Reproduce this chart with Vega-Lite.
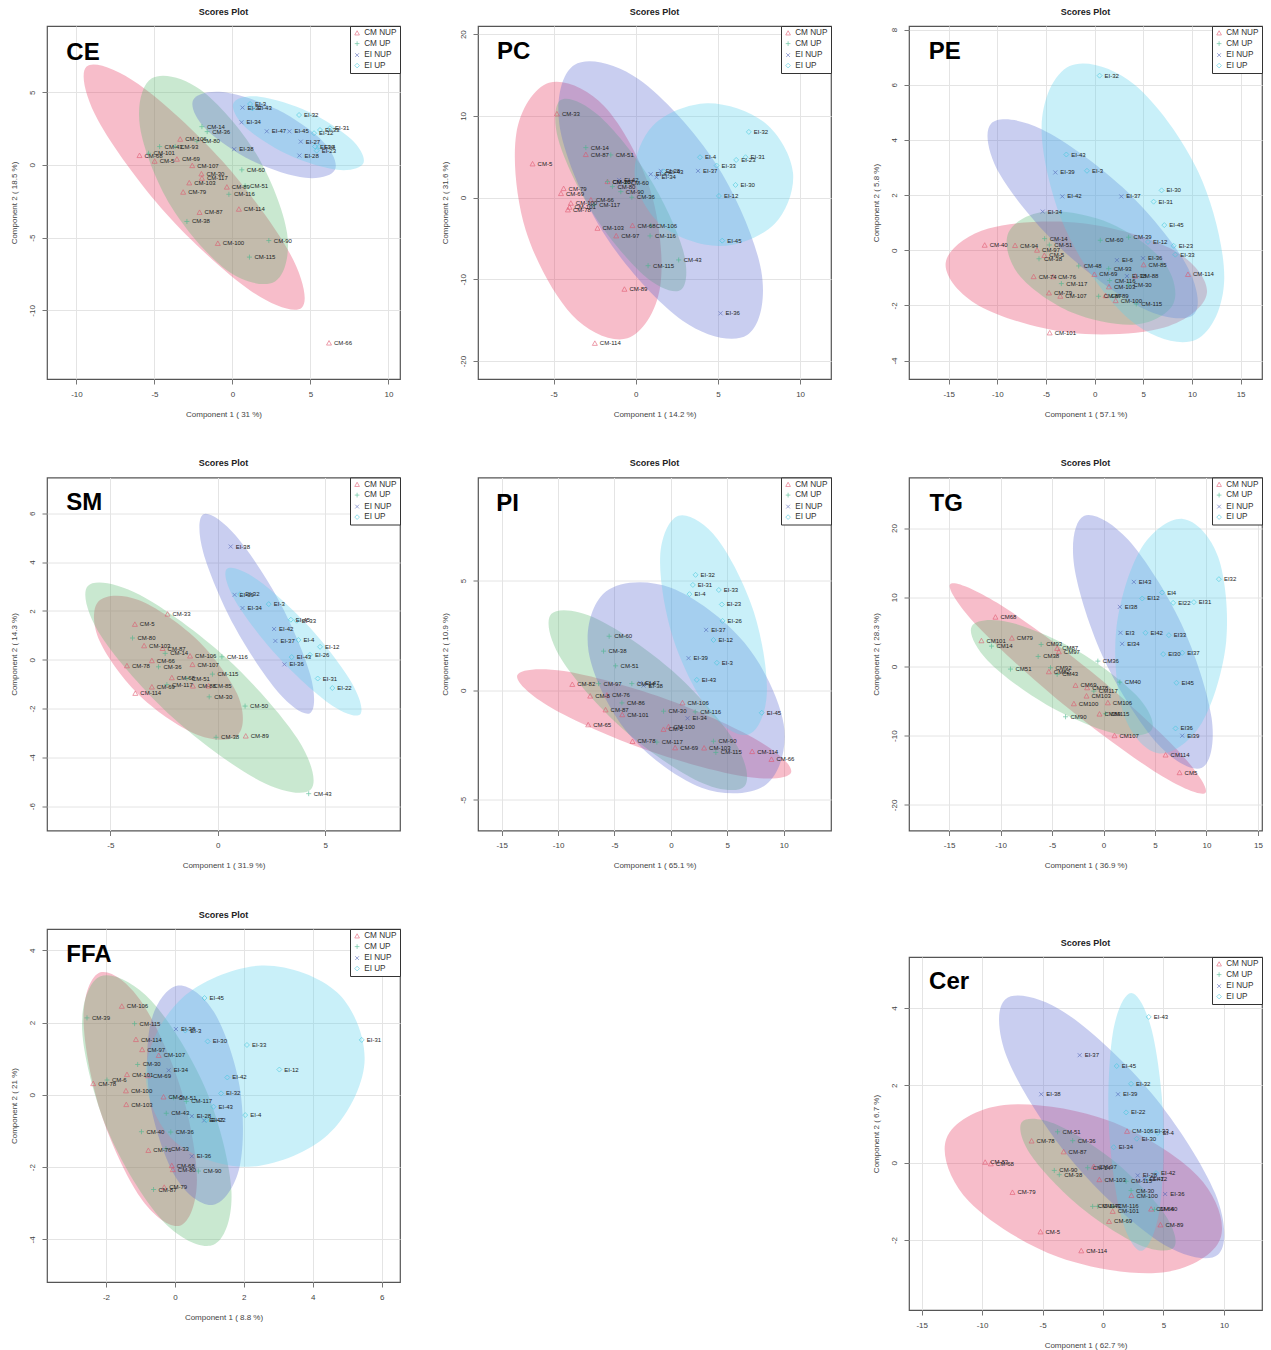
{"$schema":"https://vega.github.io/schema/vega-lite/v6.json","background":"white","padding":{"left":9,"top":6,"right":0,"bottom":0},
"config":{"font":"Liberation Sans","view":{"stroke":"#555555","strokeWidth":1.2},"title":{"fontSize":9,"fontWeight":"bold","offset":9,"color":"#222222"},
"axis":{"grid":true,"gridColor":"#e4e4e4","domain":false,"tickColor":"#777777","tickSize":5,"labelFontSize":8,"labelColor":"#444444","titleFontSize":8,"titleFontWeight":"normal","titleColor":"#444444"},
"axisX":{"labelPadding":6,"titlePadding":12,"labelFlush":false},"axisY":{"labelAngle":-90,"labelAlign":"center","labelBaseline":"bottom","labelPadding":6,"titlePadding":10},
"range":{"category":["#DF536B","#45B58A","#4B5FB5","#3FC7DC"],"symbol":["M0,-1L1,0.8L-1,0.8Z","M-1,0L1,0M0,-1L0,1","M-0.8,-0.8L0.8,0.8M-0.8,0.8L0.8,-0.8","M0,-1L1,0L0,1L-1,0Z"]},
"legend":{"orient":"top-right","offset":0,"fillColor":"white","strokeColor":"#333333","padding":3,"labelFontSize":8.2,"labelColor":"#333333","symbolSize":22,"symbolStrokeWidth":0.8,"rowPadding":1.5,"labelOffset":3,"title":null}},
"spacing":38.5,
"resolve":{"scale":{"color":"independent","shape":"independent","fill":"independent"},"legend":{"color":"independent","shape":"independent"}},
"vconcat":[
{"spacing":38,"resolve":{"scale":{"color":"independent","shape":"independent","fill":"independent"},"legend":{"color":"independent","shape":"independent"}},"hconcat":[
{"title":"Scores Plot","width":353,"height":353,"encoding":{"x":{"field":"x","type":"quantitative","scale":{"domain":[-11.89,10.74]},"axis":{"values":[-10,-5,0,5,10],"labelExpr":"''+datum.value","title":"Component 1 ( 31 %)"}},"y":{"field":"y","type":"quantitative","scale":{"domain":[-14.72,9.55]},"axis":{"values":[-10,-5,0,5],"labelExpr":"''+datum.value","title":"Component 2 ( 18.5 %)"}}},
"layer":[
{"data":{"name":"CEe"},"mark":{"type":"line","interpolate":"cardinal-closed","fillOpacity":0.33,"strokeOpacity":0},"encoding":{"fill":{"field":"g","type":"nominal","legend":null,"scale":{"domain":["CM NUP","CM UP","EI NUP","EI UP"],"range":["#e8365d","#5cb870","#5c6ad0","#5cd0ee"]}},"detail":{"field":"g"},"order":{"field":"o","type":"quantitative"}}},
{"data":{"name":"CEp"},"mark":{"type":"point","filled":false,"size":25,"strokeWidth":0.8},"encoding":{"color":{"field":"g","type":"nominal"},"shape":{"field":"g","type":"nominal"}}},
{"data":{"name":"CEp"},"mark":{"type":"text","align":"left","baseline":"middle","dx":5,"fontSize":6,"color":"#222222"},"encoding":{"text":{"field":"l"}}},
{"data":{"values":[{"x":-10.65,"y":7.21,"l":"CE"}]},"mark":{"type":"text","align":"left","baseline":"alphabetic","fontSize":24,"fontWeight":"bold","color":"black"},"encoding":{"text":{"field":"l"}}}]},
{"title":"Scores Plot","width":353,"height":353,"encoding":{"x":{"field":"x","type":"quantitative","scale":{"domain":[-9.6,11.88]},"axis":{"values":[-5,0,5,10],"labelExpr":"''+datum.value","title":"Component 1 ( 14.2 %)"}},"y":{"field":"y","type":"quantitative","scale":{"domain":[-22.2,21.0]},"axis":{"values":[-20,-10,0,10,20],"labelExpr":"''+datum.value","title":"Component 2 ( 31.6 %)"}}},
"layer":[
{"data":{"name":"PCe"},"mark":{"type":"line","interpolate":"cardinal-closed","fillOpacity":0.33,"strokeOpacity":0},"encoding":{"fill":{"field":"g","type":"nominal","legend":null,"scale":{"domain":["CM NUP","CM UP","EI NUP","EI UP"],"range":["#e8365d","#5cb870","#5c6ad0","#5cd0ee"]}},"detail":{"field":"g"},"order":{"field":"o","type":"quantitative"}}},
{"data":{"name":"PCp"},"mark":{"type":"point","filled":false,"size":25,"strokeWidth":0.8},"encoding":{"color":{"field":"g","type":"nominal"},"shape":{"field":"g","type":"nominal"}}},
{"data":{"name":"PCp"},"mark":{"type":"text","align":"left","baseline":"middle","dx":5,"fontSize":6,"color":"#222222"},"encoding":{"text":{"field":"l"}}},
{"data":{"values":[{"x":-8.44,"y":16.94,"l":"PC"}]},"mark":{"type":"text","align":"left","baseline":"alphabetic","fontSize":24,"fontWeight":"bold","color":"black"},"encoding":{"text":{"field":"l"}}}]},
{"title":"Scores Plot","width":353,"height":353,"encoding":{"x":{"field":"x","type":"quantitative","scale":{"domain":[-19.08,17.2]},"axis":{"values":[-15,-10,-5,0,5,10,15],"labelExpr":"''+datum.value","title":"Component 1 ( 57.1 %)"}},"y":{"field":"y","type":"quantitative","scale":{"domain":[-4.67,8.13]},"axis":{"values":[-4,-2,0,2,4,6,8],"labelExpr":"''+datum.value","title":"Component 2 ( 5.8 %)"}}},
"layer":[
{"data":{"name":"PEe"},"mark":{"type":"line","interpolate":"cardinal-closed","fillOpacity":0.33,"strokeOpacity":0},"encoding":{"fill":{"field":"g","type":"nominal","legend":null,"scale":{"domain":["CM NUP","CM UP","EI NUP","EI UP"],"range":["#e8365d","#5cb870","#5c6ad0","#5cd0ee"]}},"detail":{"field":"g"},"order":{"field":"o","type":"quantitative"}}},
{"data":{"name":"PEp"},"mark":{"type":"point","filled":false,"size":25,"strokeWidth":0.8},"encoding":{"color":{"field":"g","type":"nominal"},"shape":{"field":"g","type":"nominal"}}},
{"data":{"name":"PEp"},"mark":{"type":"text","align":"left","baseline":"middle","dx":5,"fontSize":6,"color":"#222222"},"encoding":{"text":{"field":"l"}}},
{"data":{"values":[{"x":-17.05,"y":6.95,"l":"PE"}]},"mark":{"type":"text","align":"left","baseline":"alphabetic","fontSize":24,"fontWeight":"bold","color":"black"},"encoding":{"text":{"field":"l"}}}]}
]},
{"spacing":38,"resolve":{"scale":{"color":"independent","shape":"independent","fill":"independent"},"legend":{"color":"independent","shape":"independent"}},"hconcat":[
{"title":"Scores Plot","width":353,"height":353,"encoding":{"x":{"field":"x","type":"quantitative","scale":{"domain":[-7.95,8.48]},"axis":{"values":[-5,0,5],"labelExpr":"''+datum.value","title":"Component 1 ( 31.9 %)"}},"y":{"field":"y","type":"quantitative","scale":{"domain":[-7.0,7.47]},"axis":{"values":[-6,-4,-2,0,2,4,6],"labelExpr":"''+datum.value","title":"Component 2 ( 14.3 %)"}}},
"layer":[
{"data":{"name":"SMe"},"mark":{"type":"line","interpolate":"cardinal-closed","fillOpacity":0.33,"strokeOpacity":0},"encoding":{"fill":{"field":"g","type":"nominal","legend":null,"scale":{"domain":["CM NUP","CM UP","EI NUP","EI UP"],"range":["#e8365d","#5cb870","#5c6ad0","#5cd0ee"]}},"detail":{"field":"g"},"order":{"field":"o","type":"quantitative"}}},
{"data":{"name":"SMp"},"mark":{"type":"point","filled":false,"size":25,"strokeWidth":0.8},"encoding":{"color":{"field":"g","type":"nominal"},"shape":{"field":"g","type":"nominal"}}},
{"data":{"name":"SMp"},"mark":{"type":"text","align":"left","baseline":"middle","dx":5,"fontSize":6,"color":"#222222"},"encoding":{"text":{"field":"l"}}},
{"data":{"values":[{"x":-7.05,"y":6.12,"l":"SM"}]},"mark":{"type":"text","align":"left","baseline":"alphabetic","fontSize":24,"fontWeight":"bold","color":"black"},"encoding":{"text":{"field":"l"}}}]},
{"title":"Scores Plot","width":353,"height":353,"encoding":{"x":{"field":"x","type":"quantitative","scale":{"domain":[-17.1,14.2]},"axis":{"values":[-15,-10,-5,0,5,10],"labelExpr":"''+datum.value","title":"Component 1 ( 65.1 %)"}},"y":{"field":"y","type":"quantitative","scale":{"domain":[-6.4,9.7]},"axis":{"values":[-5,0,5],"labelExpr":"''+datum.value","title":"Component 2 ( 10.9 %)"}}},
"layer":[
{"data":{"name":"PIe"},"mark":{"type":"line","interpolate":"cardinal-closed","fillOpacity":0.33,"strokeOpacity":0},"encoding":{"fill":{"field":"g","type":"nominal","legend":null,"scale":{"domain":["CM NUP","CM UP","EI NUP","EI UP"],"range":["#e8365d","#5cb870","#5c6ad0","#5cd0ee"]}},"detail":{"field":"g"},"order":{"field":"o","type":"quantitative"}}},
{"data":{"name":"PIp"},"mark":{"type":"point","filled":false,"size":25,"strokeWidth":0.8},"encoding":{"color":{"field":"g","type":"nominal"},"shape":{"field":"g","type":"nominal"}}},
{"data":{"name":"PIp"},"mark":{"type":"text","align":"left","baseline":"middle","dx":5,"fontSize":6,"color":"#222222"},"encoding":{"text":{"field":"l"}}},
{"data":{"values":[{"x":-15.48,"y":8.16,"l":"PI"}]},"mark":{"type":"text","align":"left","baseline":"alphabetic","fontSize":24,"fontWeight":"bold","color":"black"},"encoding":{"text":{"field":"l"}}}]},
{"title":"Scores Plot","width":353,"height":353,"encoding":{"x":{"field":"x","type":"quantitative","scale":{"domain":[-18.9,15.4]},"axis":{"values":[-15,-10,-5,0,5,10,15],"labelExpr":"''+datum.value","title":"Component 1 ( 36.9 %)"}},"y":{"field":"y","type":"quantitative","scale":{"domain":[-23.7,27.3]},"axis":{"values":[-20,-10,0,10,20],"labelExpr":"''+datum.value","title":"Component 2 ( 28.3 %)"}}},
"layer":[
{"data":{"name":"TGe"},"mark":{"type":"line","interpolate":"cardinal-closed","fillOpacity":0.33,"strokeOpacity":0},"encoding":{"fill":{"field":"g","type":"nominal","legend":null,"scale":{"domain":["CM NUP","CM UP","EI NUP","EI UP"],"range":["#e8365d","#5cb870","#5c6ad0","#5cd0ee"]}},"detail":{"field":"g"},"order":{"field":"o","type":"quantitative"}}},
{"data":{"name":"TGp"},"mark":{"type":"point","filled":false,"size":25,"strokeWidth":0.8},"encoding":{"color":{"field":"g","type":"nominal"},"shape":{"field":"g","type":"nominal"}}},
{"data":{"name":"TGp"},"mark":{"type":"text","align":"left","baseline":"middle","dx":5,"fontSize":6,"color":"#222222"},"encoding":{"text":{"field":"l"}}},
{"data":{"values":[{"x":-16.91,"y":22.43,"l":"TG"}]},"mark":{"type":"text","align":"left","baseline":"alphabetic","fontSize":24,"fontWeight":"bold","color":"black"},"encoding":{"text":{"field":"l"}}}]}
]},
{"spacing":469,"resolve":{"scale":{"color":"independent","shape":"independent","fill":"independent"},"legend":{"color":"independent","shape":"independent"}},"hconcat":[
{"title":"Scores Plot","width":353,"height":353,"encoding":{"x":{"field":"x","type":"quantitative","scale":{"domain":[-3.71,6.53]},"axis":{"values":[-2,0,2,4,6],"labelExpr":"''+datum.value","title":"Component 1 ( 8.8 %)"}},"y":{"field":"y","type":"quantitative","scale":{"domain":[-5.18,4.59]},"axis":{"values":[-4,-2,0,2,4],"labelExpr":"''+datum.value","title":"Component 2 ( 21 %)"}}},
"layer":[
{"data":{"name":"FFAe"},"mark":{"type":"line","interpolate":"cardinal-closed","fillOpacity":0.33,"strokeOpacity":0},"encoding":{"fill":{"field":"g","type":"nominal","legend":null,"scale":{"domain":["CM NUP","CM UP","EI NUP","EI UP"],"range":["#e8365d","#5cb870","#5c6ad0","#5cd0ee"]}},"detail":{"field":"g"},"order":{"field":"o","type":"quantitative"}}},
{"data":{"name":"FFAp"},"mark":{"type":"point","filled":false,"size":25,"strokeWidth":0.8},"encoding":{"color":{"field":"g","type":"nominal"},"shape":{"field":"g","type":"nominal"}}},
{"data":{"name":"FFAp"},"mark":{"type":"text","align":"left","baseline":"middle","dx":5,"fontSize":6,"color":"#222222"},"encoding":{"text":{"field":"l"}}},
{"data":{"values":[{"x":-3.15,"y":3.68,"l":"FFA"}]},"mark":{"type":"text","align":"left","baseline":"alphabetic","fontSize":24,"fontWeight":"bold","color":"black"},"encoding":{"text":{"field":"l"}}}]},
{"spacing":4,"resolve":{"scale":{"color":"independent","shape":"independent","fill":"independent"},"legend":{"color":"independent","shape":"independent"}},"vconcat":[
{"width":353,"height":1,"view":{"stroke":null},"data":{"values":[{"a":1}]},"mark":{"type":"point","opacity":0}},
{"title":"Scores Plot","width":353,"height":353,"encoding":{"x":{"field":"x","type":"quantitative","scale":{"domain":[-16.05,13.15]},"axis":{"values":[-15,-10,-5,0,5,10],"labelExpr":"''+datum.value","title":"Component 1 ( 62.7 %)"}},"y":{"field":"y","type":"quantitative","scale":{"domain":[-3.81,5.32]},"axis":{"values":[-2,0,2,4],"labelExpr":"''+datum.value","title":"Component 2 ( 6.7 %)"}}},
"layer":[
{"data":{"name":"Cere"},"mark":{"type":"line","interpolate":"cardinal-closed","fillOpacity":0.33,"strokeOpacity":0},"encoding":{"fill":{"field":"g","type":"nominal","legend":null,"scale":{"domain":["CM NUP","CM UP","EI NUP","EI UP"],"range":["#e8365d","#5cb870","#5c6ad0","#5cd0ee"]}},"detail":{"field":"g"},"order":{"field":"o","type":"quantitative"}}},
{"data":{"name":"Cerp"},"mark":{"type":"point","filled":false,"size":25,"strokeWidth":0.8},"encoding":{"color":{"field":"g","type":"nominal"},"shape":{"field":"g","type":"nominal"}}},
{"data":{"name":"Cerp"},"mark":{"type":"text","align":"left","baseline":"middle","dx":5,"fontSize":6,"color":"#222222"},"encoding":{"text":{"field":"l"}}},
{"data":{"values":[{"x":-14.39,"y":4.5,"l":"Cer"}]},"mark":{"type":"text","align":"left","baseline":"alphabetic","fontSize":24,"fontWeight":"bold","color":"black"},"encoding":{"text":{"field":"l"}}}]}
]}
]}
],
"datasets":{
"CEe":[
{"g":"CM NUP","o":1,"x":4.44,"y":-9.82},{"g":"CM NUP","o":2,"x":3.71,"y":-6.14},{"g":"CM NUP","o":3,"x":-0.62,"y":0.23},{"g":"CM NUP","o":4,"x":-6.04,"y":5.56},{"g":"CM NUP","o":5,"x":-9.35,"y":6.76},{"g":"CM NUP","o":6,"x":-8.62,"y":3.07},{"g":"CM NUP","o":7,"x":-4.29,"y":-3.3},{"g":"CM NUP","o":8,"x":1.13,"y":-8.63},
{"g":"CM UP","o":1,"x":2.73,"y":-8.01},{"g":"CM UP","o":2,"x":3.5,"y":-4.69},{"g":"CM UP","o":3,"x":1.52,"y":0.76},{"g":"CM UP","o":4,"x":-2.07,"y":5.18},{"g":"CM UP","o":5,"x":-5.17,"y":5.95},{"g":"CM UP","o":6,"x":-5.93,"y":2.63},{"g":"CM UP","o":7,"x":-3.95,"y":-2.82},{"g":"CM UP","o":8,"x":-0.36,"y":-7.24},
{"g":"EI NUP","o":1,"x":6.57,"y":-0.34},{"g":"EI NUP","o":2,"x":4.67,"y":-0.89},{"g":"EI NUP","o":3,"x":1.22,"y":0.3},{"g":"EI NUP","o":4,"x":-1.75,"y":2.52},{"g":"EI NUP","o":5,"x":-2.52,"y":4.47},{"g":"EI NUP","o":6,"x":-0.62,"y":5.01},{"g":"EI NUP","o":7,"x":2.84,"y":3.82},{"g":"EI NUP","o":8,"x":5.81,"y":1.6},
{"g":"EI UP","o":1,"x":8.39,"y":0.11},{"g":"EI UP","o":2,"x":6.72,"y":-0.34},{"g":"EI UP","o":3,"x":3.59,"y":0.69},{"g":"EI UP","o":4,"x":0.83,"y":2.59},{"g":"EI UP","o":5,"x":0.06,"y":4.24},{"g":"EI UP","o":6,"x":1.73,"y":4.69},{"g":"EI UP","o":7,"x":4.87,"y":3.66},{"g":"EI UP","o":8,"x":7.62,"y":1.76}],
"CEp":[
{"g":"CM NUP","x":6.19,"y":-12.25,"l":"CM-66"},{"g":"CM NUP","x":-0.94,"y":-5.4,"l":"CM-100"},{"g":"CM NUP","x":0.41,"y":-3.05,"l":"CM-114"},{"g":"CM NUP","x":-2.11,"y":-3.27,"l":"CM-87"},{"g":"CM NUP","x":-3.16,"y":-1.88,"l":"CM-79"},{"g":"CM NUP","x":-2.77,"y":-1.24,"l":"CM-103"},{"g":"CM NUP","x":-1.96,"y":-0.92,"l":"CM-117"},{"g":"CM NUP","x":-1.99,"y":-0.62,"l":"CM-30"},{"g":"CM NUP","x":-2.58,"y":-0.05,"l":"CM-107"},{"g":"CM NUP","x":-3.56,"y":0.39,"l":"CM-69"},{"g":"CM NUP","x":-4.99,"y":0.25,"l":"CM-5"},{"g":"CM NUP","x":-5.96,"y":0.64,"l":"CM-68"},{"g":"CM NUP","x":-3.35,"y":1.76,"l":"CM-106"},{"g":"CM NUP","x":-0.36,"y":-1.53,"l":"CM-89"},
{"g":"CM UP","x":-1.96,"y":2.63,"l":"CM-14"},{"g":"CM UP","x":-1.62,"y":2.29,"l":"CM-36"},{"g":"CM UP","x":-3.67,"y":1.26,"l":"CM-93"},{"g":"CM UP","x":-4.67,"y":1.26,"l":"CM-43"},{"g":"CM UP","x":-5.38,"y":0.8,"l":"CM-101"},{"g":"CM UP","x":-2.28,"y":1.63,"l":"CM-80"},{"g":"CM UP","x":0.6,"y":-0.34,"l":"CM-60"},{"g":"CM UP","x":0.81,"y":-1.44,"l":"CM-51"},{"g":"CM UP","x":-0.23,"y":-2.02,"l":"CM-116"},{"g":"CM UP","x":-2.92,"y":-3.89,"l":"CM-38"},{"g":"CM UP","x":2.33,"y":-5.2,"l":"CM-90"},{"g":"CM UP","x":1.09,"y":-6.34,"l":"CM-115"},
{"g":"EI NUP","x":0.64,"y":3.94,"l":"EI-37"},{"g":"EI NUP","x":0.58,"y":2.93,"l":"EI-34"},{"g":"EI NUP","x":2.2,"y":2.31,"l":"EI-47"},{"g":"EI NUP","x":0.11,"y":1.08,"l":"EI-38"},{"g":"EI NUP","x":3.65,"y":2.31,"l":"EI-45"},{"g":"EI NUP","x":4.38,"y":1.6,"l":"EI-27"},{"g":"EI NUP","x":4.29,"y":0.64,"l":"EI-28"},
{"g":"EI UP","x":1.13,"y":4.19,"l":"EI-3"},{"g":"EI UP","x":1.28,"y":3.89,"l":"EI-43"},{"g":"EI UP","x":4.27,"y":3.43,"l":"EI-32"},{"g":"EI UP","x":6.25,"y":2.52,"l":"EI-31"},{"g":"EI UP","x":5.61,"y":2.4,"l":"EI-33"},{"g":"EI UP","x":5.23,"y":2.18,"l":"EI-12"},{"g":"EI UP","x":5.29,"y":1.26,"l":"EI-30"},{"g":"EI UP","x":5.4,"y":0.98,"l":"EI-23"},{"g":"EI UP","x":5.57,"y":1.26,"l":"EI-4"}],
"PCe":[
{"g":"CM NUP","o":1,"x":-0.51,"y":-17.22},{"g":"CM NUP","o":2,"x":1.48,"y":-10.98},{"g":"CM NUP","o":3,"x":0.91,"y":0.78},{"g":"CM NUP","o":4,"x":-1.9,"y":11.14},{"g":"CM NUP","o":5,"x":-5.28,"y":14.04},{"g":"CM NUP","o":6,"x":-7.27,"y":7.8},{"g":"CM NUP","o":7,"x":-6.7,"y":-3.96},{"g":"CM NUP","o":8,"x":-3.89,"y":-14.33},
{"g":"CM UP","o":1,"x":2.73,"y":-11.31},{"g":"CM UP","o":2,"x":2.87,"y":-6.37},{"g":"CM UP","o":3,"x":0.81,"y":2.49},{"g":"CM UP","o":4,"x":-2.27,"y":10.08},{"g":"CM UP","o":5,"x":-4.55,"y":11.96},{"g":"CM UP","o":6,"x":-4.7,"y":7.02},{"g":"CM UP","o":7,"x":-2.63,"y":-1.84},{"g":"CM UP","o":8,"x":0.45,"y":-9.43},
{"g":"EI NUP","o":1,"x":6.78,"y":-16.82},{"g":"EI NUP","o":2,"x":7.63,"y":-8.9},{"g":"EI NUP","o":3,"x":4.9,"y":4.08},{"g":"EI NUP","o":4,"x":0.18,"y":14.49},{"g":"EI NUP","o":5,"x":-3.74,"y":16.24},{"g":"EI NUP","o":6,"x":-4.6,"y":8.33},{"g":"EI NUP","o":7,"x":-1.86,"y":-4.65},{"g":"EI NUP","o":8,"x":2.85,"y":-15.06},
{"g":"EI UP","o":1,"x":9.57,"y":3.02},{"g":"EI UP","o":2,"x":8.44,"y":-3.22},{"g":"EI UP","o":3,"x":5.16,"y":-5.92},{"g":"EI UP","o":4,"x":1.64,"y":-3.51},{"g":"EI UP","o":5,"x":-0.06,"y":2.61},{"g":"EI UP","o":6,"x":1.07,"y":8.86},{"g":"EI UP","o":7,"x":4.35,"y":11.55},{"g":"EI UP","o":8,"x":7.87,"y":9.14}],
"PCp":[
{"g":"CM NUP","x":-4.8,"y":10.24,"l":"CM-33"},{"g":"CM NUP","x":-6.28,"y":4.12,"l":"CM-5"},{"g":"CM NUP","x":-3.04,"y":5.27,"l":"CM-87"},{"g":"CM NUP","x":-4.39,"y":1.1,"l":"CM-79"},{"g":"CM NUP","x":-4.55,"y":0.49,"l":"CM-69"},{"g":"CM NUP","x":-3.95,"y":-0.69,"l":"CM-100"},{"g":"CM NUP","x":-4.03,"y":-1.18,"l":"CM-101"},{"g":"CM NUP","x":-4.13,"y":-1.51,"l":"CM-78"},{"g":"CM NUP","x":-2.73,"y":-0.29,"l":"CM-66"},{"g":"CM NUP","x":-2.33,"y":-3.76,"l":"CM-103"},{"g":"CM NUP","x":-1.19,"y":-4.69,"l":"CM-97"},{"g":"CM NUP","x":-0.2,"y":-3.43,"l":"CM-68"},{"g":"CM NUP","x":-0.69,"y":-11.22,"l":"CM-89"},{"g":"CM NUP","x":-2.49,"y":-17.84,"l":"CM-114"},{"g":"CM NUP","x":-1.72,"y":1.96,"l":"CM-107"},
{"g":"CM UP","x":-3.04,"y":6.12,"l":"CM-14"},{"g":"CM UP","x":-1.52,"y":5.22,"l":"CM-51"},{"g":"CM UP","x":-0.24,"y":0.04,"l":"CM-36"},{"g":"CM UP","x":-2.53,"y":-0.9,"l":"CM-117"},{"g":"CM UP","x":0.91,"y":-3.43,"l":"CM-106"},{"g":"CM UP","x":0.87,"y":-4.69,"l":"CM-116"},{"g":"CM UP","x":0.75,"y":-8.33,"l":"CM-115"},{"g":"CM UP","x":2.61,"y":-7.63,"l":"CM-43"},{"g":"CM UP","x":-1.72,"y":1.96,"l":"CM-38"},{"g":"CM UP","x":-1.42,"y":1.35,"l":"CM-80"},{"g":"CM UP","x":-0.91,"y":0.73,"l":"CM-90"},{"g":"CM UP","x":-0.61,"y":1.76,"l":"CM-60"},
{"g":"EI NUP","x":3.79,"y":3.27,"l":"EI-37"},{"g":"EI NUP","x":5.16,"y":-14.16,"l":"EI-36"},{"g":"EI NUP","x":1.26,"y":2.49,"l":"EI-34"},{"g":"EI NUP","x":0.91,"y":2.86,"l":"EI-47"},{"g":"EI NUP","x":1.52,"y":3.27,"l":"EI-28"},{"g":"EI NUP","x":-1.01,"y":2.16,"l":"EI-42"},
{"g":"EI UP","x":6.88,"y":8.04,"l":"EI-32"},{"g":"EI UP","x":3.91,"y":4.94,"l":"EI-4"},{"g":"EI UP","x":4.92,"y":3.92,"l":"EI-33"},{"g":"EI UP","x":6.68,"y":4.94,"l":"EI-31"},{"g":"EI UP","x":6.11,"y":4.61,"l":"EI-23"},{"g":"EI UP","x":6.07,"y":1.55,"l":"EI-30"},{"g":"EI UP","x":5.06,"y":0.2,"l":"EI-12"},{"g":"EI UP","x":5.26,"y":-5.27,"l":"EI-45"},{"g":"EI UP","x":1.72,"y":3.18,"l":"EI-43"}],
"PEe":[
{"g":"CM NUP","o":1,"x":11.54,"y":-1.55},{"g":"CM NUP","o":2,"x":7.16,"y":-2.8},{"g":"CM NUP","o":3,"x":-2.53,"y":-2.99},{"g":"CM NUP","o":4,"x":-11.85,"y":-2.02},{"g":"CM NUP","o":5,"x":-15.31,"y":-0.46},{"g":"CM NUP","o":6,"x":-10.92,"y":0.79},{"g":"CM NUP","o":7,"x":-1.23,"y":0.98},{"g":"CM NUP","o":8,"x":8.08,"y":0.01},
{"g":"CM UP","o":1,"x":8.12,"y":-1.91},{"g":"CM UP","o":2,"x":4.25,"y":-2.69},{"g":"CM UP","o":3,"x":-2.33,"y":-2.26},{"g":"CM UP","o":4,"x":-7.77,"y":-0.9},{"g":"CM UP","o":5,"x":-8.87,"y":0.63},{"g":"CM UP","o":6,"x":-5.0,"y":1.4},{"g":"CM UP","o":7,"x":1.58,"y":0.98},{"g":"CM UP","o":8,"x":7.02,"y":-0.39},
{"g":"EI NUP","o":1,"x":10.24,"y":-2.31},{"g":"EI NUP","o":2,"x":9.35,"y":-0.48},{"g":"EI NUP","o":3,"x":2.84,"y":2.29},{"g":"EI NUP","o":4,"x":-5.45,"y":4.39},{"g":"EI NUP","o":5,"x":-10.65,"y":4.59},{"g":"EI NUP","o":6,"x":-9.76,"y":2.76},{"g":"EI NUP","o":7,"x":-3.25,"y":-0.01},{"g":"EI NUP","o":8,"x":5.03,"y":-2.12},
{"g":"EI UP","o":1,"x":10.45,"y":-3.24},{"g":"EI UP","o":2,"x":13.32,"y":-1.02},{"g":"EI UP","o":3,"x":10.68,"y":2.82},{"g":"EI UP","o":4,"x":4.11,"y":6.0},{"g":"EI UP","o":5,"x":-2.57,"y":6.68},{"g":"EI UP","o":6,"x":-5.45,"y":4.46},{"g":"EI UP","o":7,"x":-2.81,"y":0.62},{"g":"EI UP","o":8,"x":3.77,"y":-2.57}],
"PEp":[
{"g":"CM NUP","x":-11.3,"y":0.18,"l":"CM-40"},{"g":"CM NUP","x":-8.18,"y":0.17,"l":"CM-94"},{"g":"CM NUP","x":-5.92,"y":0.0,"l":"CM-97"},{"g":"CM NUP","x":-5.17,"y":-0.19,"l":"CM-5"},{"g":"CM NUP","x":-6.27,"y":-0.96,"l":"CM-74"},{"g":"CM NUP","x":-4.28,"y":-0.96,"l":"CM-76"},{"g":"CM NUP","x":-4.69,"y":-1.55,"l":"CM-79"},{"g":"CM NUP","x":-3.53,"y":-1.67,"l":"CM-107"},{"g":"CM NUP","x":-4.62,"y":-3.0,"l":"CM-101"},{"g":"CM NUP","x":-0.03,"y":-0.88,"l":"CM-69"},{"g":"CM NUP","x":1.47,"y":-1.33,"l":"CM-103"},{"g":"CM NUP","x":1.13,"y":-1.65,"l":"CM-89"},{"g":"CM NUP","x":2.16,"y":-1.83,"l":"CM-100"},{"g":"CM NUP","x":5.03,"y":-0.53,"l":"CM-85"},{"g":"CM NUP","x":4.18,"y":-0.94,"l":"CM-88"},{"g":"CM NUP","x":9.59,"y":-0.88,"l":"CM-114"},
{"g":"CM UP","x":-5.14,"y":0.42,"l":"CM-14"},{"g":"CM UP","x":-4.66,"y":0.19,"l":"CM-51"},{"g":"CM UP","x":-5.72,"y":-0.31,"l":"CM-38"},{"g":"CM UP","x":-3.42,"y":-1.21,"l":"CM-117"},{"g":"CM UP","x":0.58,"y":0.36,"l":"CM-60"},{"g":"CM UP","x":-1.64,"y":-0.57,"l":"CM-48"},{"g":"CM UP","x":1.44,"y":-0.67,"l":"CM-93"},{"g":"CM UP","x":1.54,"y":-1.1,"l":"CM-116"},{"g":"CM UP","x":0.41,"y":-1.67,"l":"CM-87"},{"g":"CM UP","x":4.28,"y":-1.95,"l":"CM-115"},{"g":"CM UP","x":3.49,"y":0.47,"l":"CM-39"},{"g":"CM UP","x":3.49,"y":-1.25,"l":"CM-30"},
{"g":"EI NUP","x":-4.04,"y":2.82,"l":"EI-39"},{"g":"EI NUP","x":-3.32,"y":1.95,"l":"EI-42"},{"g":"EI NUP","x":-5.34,"y":1.4,"l":"EI-34"},{"g":"EI NUP","x":2.74,"y":1.95,"l":"EI-37"},{"g":"EI NUP","x":4.97,"y":-0.29,"l":"EI-36"},{"g":"EI NUP","x":2.29,"y":-0.36,"l":"EI-6"},{"g":"EI NUP","x":3.32,"y":-0.94,"l":"EI-38"},
{"g":"EI UP","x":0.51,"y":6.33,"l":"EI-32"},{"g":"EI UP","x":-2.91,"y":3.47,"l":"EI-43"},{"g":"EI UP","x":-0.79,"y":2.88,"l":"EI-3"},{"g":"EI UP","x":6.88,"y":2.17,"l":"EI-30"},{"g":"EI UP","x":6.06,"y":1.76,"l":"EI-31"},{"g":"EI UP","x":7.16,"y":0.91,"l":"EI-45"},{"g":"EI UP","x":5.48,"y":0.3,"l":"EI-12"},{"g":"EI UP","x":8.12,"y":0.16,"l":"EI-23"},{"g":"EI UP","x":8.29,"y":-0.16,"l":"EI-33"}],
"SMe":[
{"g":"CM NUP","o":1,"x":0.96,"y":-3.06},{"g":"CM NUP","o":2,"x":0.91,"y":-1.42},{"g":"CM NUP","o":3,"x":-1.01,"y":0.86},{"g":"CM NUP","o":4,"x":-3.69,"y":2.45},{"g":"CM NUP","o":5,"x":-5.55,"y":2.4},{"g":"CM NUP","o":6,"x":-5.5,"y":0.77},{"g":"CM NUP","o":7,"x":-3.58,"y":-1.52},{"g":"CM NUP","o":8,"x":-0.9,"y":-3.1},
{"g":"CM UP","o":1,"x":4.34,"y":-5.31},{"g":"CM UP","o":2,"x":3.71,"y":-3.24},{"g":"CM UP","o":3,"x":0.4,"y":0.07},{"g":"CM UP","o":4,"x":-3.64,"y":2.66},{"g":"CM UP","o":5,"x":-6.05,"y":3.02},{"g":"CM UP","o":6,"x":-5.41,"y":0.94},{"g":"CM UP","o":7,"x":-2.11,"y":-2.36},{"g":"CM UP","o":8,"x":1.94,"y":-4.96},
{"g":"EI NUP","o":1,"x":4.29,"y":-2.19},{"g":"EI NUP","o":2,"x":4.31,"y":-0.64},{"g":"EI NUP","o":3,"x":2.87,"y":2.38},{"g":"EI NUP","o":4,"x":0.81,"y":5.11},{"g":"EI NUP","o":5,"x":-0.67,"y":5.96},{"g":"EI NUP","o":6,"x":-0.68,"y":4.41},{"g":"EI NUP","o":7,"x":0.76,"y":1.39},{"g":"EI NUP","o":8,"x":2.82,"y":-1.34},
{"g":"EI UP","o":1,"x":6.62,"y":-2.24},{"g":"EI UP","o":2,"x":6.23,"y":-0.94},{"g":"EI UP","o":3,"x":4.26,"y":1.34},{"g":"EI UP","o":4,"x":1.86,"y":3.27},{"g":"EI UP","o":5,"x":0.42,"y":3.72},{"g":"EI UP","o":6,"x":0.81,"y":2.42},{"g":"EI UP","o":7,"x":2.78,"y":0.14},{"g":"EI UP","o":8,"x":5.18,"y":-1.79}],
"SMp":[
{"g":"CM NUP","x":-2.34,"y":1.87,"l":"CM-33"},{"g":"CM NUP","x":-3.86,"y":1.45,"l":"CM-5"},{"g":"CM NUP","x":-3.43,"y":0.57,"l":"CM-103"},{"g":"CM NUP","x":-2.57,"y":0.46,"l":"CM-87"},{"g":"CM NUP","x":-4.23,"y":-0.25,"l":"CM-78"},{"g":"CM NUP","x":-3.07,"y":-0.04,"l":"CM-66"},{"g":"CM NUP","x":-1.18,"y":-0.2,"l":"CM-107"},{"g":"CM NUP","x":-1.29,"y":0.15,"l":"CM-106"},{"g":"CM NUP","x":-3.84,"y":-1.38,"l":"CM-114"},{"g":"CM NUP","x":-3.07,"y":-1.12,"l":"CM-69"},{"g":"CM NUP","x":-2.14,"y":-0.74,"l":"CM-68"},{"g":"CM NUP","x":-1.16,"y":-1.08,"l":"CM-88"},{"g":"CM NUP","x":-0.43,"y":-1.08,"l":"CM-85"},{"g":"CM NUP","x":1.3,"y":-3.13,"l":"CM-89"},
{"g":"CM UP","x":-3.97,"y":0.89,"l":"CM-80"},{"g":"CM UP","x":-2.76,"y":-0.29,"l":"CM-36"},{"g":"CM UP","x":-2.45,"y":0.26,"l":"CM-14"},{"g":"CM UP","x":0.19,"y":0.12,"l":"CM-116"},{"g":"CM UP","x":-0.25,"y":-0.59,"l":"CM-115"},{"g":"CM UP","x":-1.44,"y":-0.77,"l":"CM-51"},{"g":"CM UP","x":-2.37,"y":-1.02,"l":"CM-117"},{"g":"CM UP","x":-0.4,"y":-1.52,"l":"CM-30"},{"g":"CM UP","x":1.27,"y":-1.9,"l":"CM-50"},{"g":"CM UP","x":-0.08,"y":-3.18,"l":"CM-38"},{"g":"CM UP","x":4.23,"y":-5.49,"l":"CM-43"},
{"g":"EI NUP","x":0.6,"y":4.64,"l":"EI-38"},{"g":"EI NUP","x":0.78,"y":2.66,"l":"EI-39"},{"g":"EI NUP","x":1.15,"y":2.12,"l":"EI-34"},{"g":"EI NUP","x":2.62,"y":1.26,"l":"EI-42"},{"g":"EI NUP","x":2.68,"y":0.77,"l":"EI-37"},{"g":"EI NUP","x":3.1,"y":-0.19,"l":"EI-36"},
{"g":"EI UP","x":1.04,"y":2.69,"l":"EI-32"},{"g":"EI UP","x":2.37,"y":2.28,"l":"EI-3"},{"g":"EI UP","x":3.4,"y":1.64,"l":"EI-45"},{"g":"EI UP","x":3.67,"y":1.6,"l":"EI-33"},{"g":"EI UP","x":3.75,"y":0.81,"l":"EI-4"},{"g":"EI UP","x":4.76,"y":0.53,"l":"EI-12"},{"g":"EI UP","x":4.29,"y":0.2,"l":"EI-26"},{"g":"EI UP","x":3.44,"y":0.11,"l":"EI-43"},{"g":"EI UP","x":4.65,"y":-0.77,"l":"EI-31"},{"g":"EI UP","x":5.33,"y":-1.16,"l":"EI-22"}],
"PIe":[
{"g":"CM NUP","o":1,"x":10.66,"y":-3.75},{"g":"CM NUP","o":2,"x":6.53,"y":-3.94},{"g":"CM NUP","o":3,"x":-2.27,"y":-2.71},{"g":"CM NUP","o":4,"x":-10.64,"y":-0.79},{"g":"CM NUP","o":5,"x":-13.62,"y":0.68},{"g":"CM NUP","o":6,"x":-9.48,"y":0.87},{"g":"CM NUP","o":7,"x":-0.68,"y":-0.36},{"g":"CM NUP","o":8,"x":7.68,"y":-2.28},
{"g":"CM UP","o":1,"x":6.53,"y":-4.38},{"g":"CM UP","o":2,"x":5.61,"y":-2.31},{"g":"CM UP","o":3,"x":0.21,"y":0.85},{"g":"CM UP","o":4,"x":-6.5,"y":3.24},{"g":"CM UP","o":5,"x":-10.61,"y":3.47},{"g":"CM UP","o":6,"x":-9.69,"y":1.4},{"g":"CM UP","o":7,"x":-4.28,"y":-1.76},{"g":"CM UP","o":8,"x":2.42,"y":-4.15},
{"g":"EI NUP","o":1,"x":8.45,"y":-4.3},{"g":"EI NUP","o":2,"x":10.01,"y":-1.57},{"g":"EI NUP","o":3,"x":6.53,"y":2.16},{"g":"EI NUP","o":4,"x":0.0,"y":4.67},{"g":"EI NUP","o":5,"x":-5.73,"y":4.51},{"g":"EI NUP","o":6,"x":-7.3,"y":1.78},{"g":"EI NUP","o":7,"x":-3.81,"y":-1.95},{"g":"EI NUP","o":8,"x":2.72,"y":-4.45},
{"g":"EI UP","o":1,"x":6.88,"y":-2.02},{"g":"EI UP","o":2,"x":8.51,"y":-0.14},{"g":"EI UP","o":3,"x":7.36,"y":3.57},{"g":"EI UP","o":4,"x":4.11,"y":6.91},{"g":"EI UP","o":5,"x":0.68,"y":7.95},{"g":"EI UP","o":6,"x":-0.95,"y":6.06},{"g":"EI UP","o":7,"x":0.21,"y":2.36},{"g":"EI UP","o":8,"x":3.46,"y":-0.99}],
"PIp":[
{"g":"CM NUP","x":-8.74,"y":0.26,"l":"CM-82"},{"g":"CM NUP","x":-7.15,"y":-0.27,"l":"CM-8"},{"g":"CM NUP","x":-5.67,"y":-0.23,"l":"CM-76"},{"g":"CM NUP","x":-5.79,"y":-0.9,"l":"CM-87"},{"g":"CM NUP","x":-4.31,"y":-1.12,"l":"CM-101"},{"g":"CM NUP","x":-7.33,"y":-1.58,"l":"CM-65"},{"g":"CM NUP","x":-3.4,"y":-2.34,"l":"CM-78"},{"g":"CM NUP","x":1.03,"y":-0.58,"l":"CM-106"},{"g":"CM NUP","x":0.38,"y":-2.63,"l":"CM-69"},{"g":"CM NUP","x":2.95,"y":-2.64,"l":"CM-103"},{"g":"CM NUP","x":7.21,"y":-2.8,"l":"CM-114"},{"g":"CM NUP","x":8.92,"y":-3.16,"l":"CM-66"},{"g":"CM NUP","x":-0.65,"y":-1.79,"l":"CM-5"},{"g":"CM NUP","x":-0.21,"y":-1.67,"l":"CM-100"},
{"g":"CM UP","x":-5.47,"y":2.46,"l":"CM-60"},{"g":"CM UP","x":-5.97,"y":1.78,"l":"CM-38"},{"g":"CM UP","x":-4.9,"y":1.11,"l":"CM-51"},{"g":"CM UP","x":-6.41,"y":0.3,"l":"CM-97"},{"g":"CM UP","x":-3.46,"y":0.3,"l":"CM-14"},{"g":"CM UP","x":-4.34,"y":-0.58,"l":"CM-86"},{"g":"CM UP","x":2.16,"y":-0.99,"l":"CM-116"},{"g":"CM UP","x":3.78,"y":-2.33,"l":"CM-90"},{"g":"CM UP","x":3.99,"y":-2.84,"l":"CM-115"},{"g":"CM UP","x":-1.24,"y":-2.37,"l":"CM-117"},{"g":"CM UP","x":-0.65,"y":-0.96,"l":"CM-30"},
{"g":"EI NUP","x":3.13,"y":2.75,"l":"EI-37"},{"g":"EI NUP","x":1.57,"y":1.46,"l":"EI-39"},{"g":"EI NUP","x":1.48,"y":-1.28,"l":"EI-34"},{"g":"EI NUP","x":-2.42,"y":0.21,"l":"EI-38"},{"g":"EI NUP","x":-2.72,"y":0.33,"l":"EI-47"},
{"g":"EI UP","x":2.19,"y":5.26,"l":"EI-32"},{"g":"EI UP","x":1.95,"y":4.8,"l":"EI-31"},{"g":"EI UP","x":1.65,"y":4.38,"l":"EI-4"},{"g":"EI UP","x":4.25,"y":4.57,"l":"EI-33"},{"g":"EI UP","x":4.52,"y":3.91,"l":"EI-23"},{"g":"EI UP","x":4.58,"y":3.16,"l":"EI-26"},{"g":"EI UP","x":3.78,"y":2.29,"l":"EI-12"},{"g":"EI UP","x":4.08,"y":1.25,"l":"EI-3"},{"g":"EI UP","x":2.3,"y":0.47,"l":"EI-43"},{"g":"EI UP","x":8.06,"y":-1.03,"l":"EI-45"}],
"TGe":[
{"g":"CM NUP","o":1,"x":9.91,"y":-18.24},{"g":"CM NUP","o":2,"x":7.22,"y":-12.13},{"g":"CM NUP","o":3,"x":-1.17,"y":-0.77},{"g":"CM NUP","o":4,"x":-10.33,"y":9.19},{"g":"CM NUP","o":5,"x":-14.9,"y":11.89},{"g":"CM NUP","o":6,"x":-12.21,"y":5.77},{"g":"CM NUP","o":7,"x":-3.82,"y":-5.58},{"g":"CM NUP","o":8,"x":5.35,"y":-15.54},
{"g":"CM UP","o":1,"x":4.7,"y":-9.1},{"g":"CM UP","o":2,"x":1.07,"y":-9.67},{"g":"CM UP","o":3,"x":-5.54,"y":-5.53},{"g":"CM UP","o":4,"x":-11.27,"y":0.87},{"g":"CM UP","o":5,"x":-12.8,"y":5.82},{"g":"CM UP","o":6,"x":-9.17,"y":6.4},{"g":"CM UP","o":7,"x":-2.56,"y":2.26},{"g":"CM UP","o":8,"x":3.17,"y":-4.14},
{"g":"EI NUP","o":1,"x":9.56,"y":-14.63},{"g":"EI NUP","o":2,"x":10.5,"y":-7.41},{"g":"EI NUP","o":3,"x":7.55,"y":6.21},{"g":"EI NUP","o":4,"x":2.4,"y":18.29},{"g":"EI NUP","o":5,"x":-1.91,"y":21.75},{"g":"EI NUP","o":6,"x":-2.85,"y":14.53},{"g":"EI NUP","o":7,"x":0.1,"y":0.91},{"g":"EI NUP","o":8,"x":5.25,"y":-11.16},
{"g":"EI UP","o":1,"x":7.71,"y":21.32},{"g":"EI UP","o":2,"x":11.14,"y":15.83},{"g":"EI UP","o":3,"x":11.92,"y":3.61},{"g":"EI UP","o":4,"x":9.56,"y":-8.13},{"g":"EI UP","o":5,"x":5.44,"y":-12.56},{"g":"EI UP","o":6,"x":2.01,"y":-7.07},{"g":"EI UP","o":7,"x":1.23,"y":5.15},{"g":"EI UP","o":8,"x":3.6,"y":16.89}],
"TGp":[
{"g":"CM NUP","x":-10.5,"y":7.12,"l":"CM68"},{"g":"CM NUP","x":-8.91,"y":4.09,"l":"CM79"},{"g":"CM NUP","x":-11.86,"y":3.71,"l":"CM101"},{"g":"CM NUP","x":-4.5,"y":2.6,"l":"CM87"},{"g":"CM NUP","x":-4.34,"y":2.12,"l":"CM97"},{"g":"CM NUP","x":-5.31,"y":-0.77,"l":"CM82"},{"g":"CM NUP","x":-2.72,"y":-2.74,"l":"CM69"},{"g":"CM NUP","x":-1.59,"y":-3.08,"l":"CM78"},{"g":"CM NUP","x":-1.65,"y":-4.28,"l":"CM103"},{"g":"CM NUP","x":-2.88,"y":-5.39,"l":"CM100"},{"g":"CM NUP","x":0.42,"y":-5.25,"l":"CM106"},{"g":"CM NUP","x":-0.39,"y":-6.88,"l":"CM89"},{"g":"CM NUP","x":1.07,"y":-10.01,"l":"CM107"},{"g":"CM NUP","x":6.03,"y":-12.8,"l":"CM114"},{"g":"CM NUP","x":7.39,"y":-15.35,"l":"CM5"},
{"g":"CM UP","x":-10.88,"y":2.94,"l":"CM14"},{"g":"CM UP","x":-9.04,"y":-0.38,"l":"CM51"},{"g":"CM UP","x":-6.06,"y":3.18,"l":"CM93"},{"g":"CM UP","x":-6.35,"y":1.44,"l":"CM38"},{"g":"CM UP","x":-5.15,"y":-0.19,"l":"CM92"},{"g":"CM UP","x":-4.5,"y":-1.15,"l":"CM43"},{"g":"CM UP","x":-0.55,"y":0.77,"l":"CM36"},{"g":"CM UP","x":1.59,"y":-2.26,"l":"CM40"},{"g":"CM UP","x":-3.69,"y":-7.27,"l":"CM90"},{"g":"CM UP","x":-0.94,"y":-3.56,"l":"CM117"},{"g":"CM UP","x":0.19,"y":-6.83,"l":"CM115"},
{"g":"EI NUP","x":2.95,"y":12.22,"l":"EI43"},{"g":"EI NUP","x":1.59,"y":8.61,"l":"EI38"},{"g":"EI NUP","x":1.65,"y":4.86,"l":"EI3"},{"g":"EI NUP","x":1.81,"y":3.27,"l":"EI34"},{"g":"EI NUP","x":7.65,"y":-10.01,"l":"Ei39"},
{"g":"EI UP","x":11.21,"y":12.61,"l":"EI32"},{"g":"EI UP","x":5.7,"y":10.68,"l":"EI4"},{"g":"EI UP","x":3.76,"y":9.82,"l":"EI12"},{"g":"EI UP","x":6.77,"y":9.19,"l":"EI22"},{"g":"EI UP","x":8.78,"y":9.29,"l":"EI31"},{"g":"EI UP","x":4.08,"y":4.86,"l":"EI42"},{"g":"EI UP","x":6.35,"y":4.52,"l":"EI33"},{"g":"EI UP","x":7.65,"y":1.97,"l":"EI37"},{"g":"EI UP","x":5.8,"y":1.78,"l":"EI30"},{"g":"EI UP","x":7.09,"y":-2.36,"l":"EI45"},{"g":"EI UP","x":7.0,"y":-8.95,"l":"EI36"}],
"FFAe":[
{"g":"CM NUP","o":1,"x":0.15,"y":-3.62},{"g":"CM NUP","o":2,"x":0.64,"y":-2.34},{"g":"CM NUP","o":3,"x":0.15,"y":0.24},{"g":"CM NUP","o":4,"x":-1.0,"y":2.62},{"g":"CM NUP","o":5,"x":-2.16,"y":3.39},{"g":"CM NUP","o":6,"x":-2.65,"y":2.12},{"g":"CM NUP","o":7,"x":-2.16,"y":-0.46},{"g":"CM NUP","o":8,"x":-1.0,"y":-2.84},
{"g":"CM UP","o":1,"x":1.12,"y":-4.15},{"g":"CM UP","o":2,"x":1.64,"y":-2.66},{"g":"CM UP","o":3,"x":0.9,"y":0.14},{"g":"CM UP","o":4,"x":-0.68,"y":2.6},{"g":"CM UP","o":5,"x":-2.16,"y":3.28},{"g":"CM UP","o":6,"x":-2.69,"y":1.79},{"g":"CM UP","o":7,"x":-1.94,"y":-1.01},{"g":"CM UP","o":8,"x":-0.37,"y":-3.47},
{"g":"EI NUP","o":1,"x":1.12,"y":-3.04},{"g":"EI NUP","o":2,"x":1.88,"y":-1.98},{"g":"EI NUP","o":3,"x":1.88,"y":0.22},{"g":"EI NUP","o":4,"x":1.13,"y":2.3},{"g":"EI NUP","o":5,"x":0.06,"y":3.02},{"g":"EI NUP","o":6,"x":-0.71,"y":1.96},{"g":"EI NUP","o":7,"x":-0.71,"y":-0.24},{"g":"EI NUP","o":8,"x":0.05,"y":-2.32},
{"g":"EI UP","o":1,"x":5.5,"y":0.89},{"g":"EI UP","o":2,"x":4.43,"y":-1.11},{"g":"EI UP","o":3,"x":2.14,"y":-1.99},{"g":"EI UP","o":4,"x":-0.05,"y":-1.25},{"g":"EI UP","o":5,"x":-0.84,"y":0.7},{"g":"EI UP","o":6,"x":0.22,"y":2.69},{"g":"EI UP","o":7,"x":2.52,"y":3.58},{"g":"EI UP","o":8,"x":4.71,"y":2.83}],
"FFAp":[
{"g":"CM NUP","x":-1.54,"y":2.45,"l":"CM-106"},{"g":"CM NUP","x":-1.13,"y":1.53,"l":"CM-114"},{"g":"CM NUP","x":-0.95,"y":1.25,"l":"CM-97"},{"g":"CM NUP","x":-0.47,"y":1.09,"l":"CM-107"},{"g":"CM NUP","x":-1.39,"y":0.56,"l":"CM-101"},{"g":"CM NUP","x":-0.78,"y":0.53,"l":"CM-69"},{"g":"CM NUP","x":-2.37,"y":0.31,"l":"CM-78"},{"g":"CM NUP","x":-1.42,"y":0.11,"l":"CM-100"},{"g":"CM NUP","x":-1.41,"y":-0.27,"l":"CM-103"},{"g":"CM NUP","x":-0.33,"y":-0.06,"l":"CM-5"},{"g":"CM NUP","x":-0.77,"y":-1.54,"l":"CM-76"},{"g":"CM NUP","x":-0.09,"y":-1.96,"l":"CM-68"},{"g":"CM NUP","x":-0.06,"y":-2.07,"l":"CM-80"},{"g":"CM NUP","x":-0.31,"y":-2.56,"l":"CM-79"},
{"g":"CM UP","x":-2.55,"y":2.13,"l":"CM-39"},{"g":"CM UP","x":-1.17,"y":1.97,"l":"CM-115"},{"g":"CM UP","x":-1.08,"y":0.84,"l":"CM-30"},{"g":"CM UP","x":-1.97,"y":0.41,"l":"CM-6"},{"g":"CM UP","x":0.33,"y":-0.18,"l":"CM-117"},{"g":"CM UP","x":-0.04,"y":-0.08,"l":"CM-51"},{"g":"CM UP","x":-0.25,"y":-0.51,"l":"CM-43"},{"g":"CM UP","x":-0.97,"y":-1.02,"l":"CM-40"},{"g":"CM UP","x":-0.12,"y":-1.03,"l":"CM-36"},{"g":"CM UP","x":-0.26,"y":-1.49,"l":"CM-33"},{"g":"CM UP","x":0.68,"y":-2.11,"l":"CM-90"},{"g":"CM UP","x":-0.62,"y":-2.62,"l":"CM-87"},
{"g":"EI NUP","x":0.03,"y":1.82,"l":"EI-38"},{"g":"EI NUP","x":-0.18,"y":0.68,"l":"EI-34"},{"g":"EI NUP","x":0.49,"y":-0.59,"l":"EI-28"},{"g":"EI NUP","x":0.85,"y":-0.71,"l":"EI-47"},{"g":"EI NUP","x":0.49,"y":-1.7,"l":"EI-36"},
{"g":"EI UP","x":0.86,"y":2.68,"l":"EI-45"},{"g":"EI UP","x":0.3,"y":1.78,"l":"EI-3"},{"g":"EI UP","x":0.95,"y":1.48,"l":"EI-30"},{"g":"EI UP","x":2.09,"y":1.38,"l":"EI-33"},{"g":"EI UP","x":5.42,"y":1.52,"l":"EI-31"},{"g":"EI UP","x":3.03,"y":0.7,"l":"EI-12"},{"g":"EI UP","x":1.52,"y":0.48,"l":"EI-42"},{"g":"EI UP","x":1.34,"y":0.04,"l":"EI-32"},{"g":"EI UP","x":1.12,"y":-0.33,"l":"EI-43"},{"g":"EI UP","x":2.04,"y":-0.56,"l":"EI-4"},{"g":"EI UP","x":0.91,"y":-0.69,"l":"EI-22"}],
"Cere":[
{"g":"CM NUP","o":1,"x":9.7,"y":-1.97},{"g":"CM NUP","o":2,"x":4.92,"y":-2.84},{"g":"CM NUP","o":3,"x":-3.7,"y":-2.44},{"g":"CM NUP","o":4,"x":-11.1,"y":-1.0},{"g":"CM NUP","o":5,"x":-12.96,"y":0.62},{"g":"CM NUP","o":6,"x":-8.18,"y":1.49},{"g":"CM NUP","o":7,"x":0.44,"y":1.09},{"g":"CM NUP","o":8,"x":7.85,"y":-0.35},
{"g":"CM UP","o":1,"x":5.88,"y":-2.19},{"g":"CM UP","o":2,"x":2.98,"y":-2.12},{"g":"CM UP","o":3,"x":-1.91,"y":-1.14},{"g":"CM UP","o":4,"x":-5.91,"y":0.17},{"g":"CM UP","o":5,"x":-6.71,"y":1.05},{"g":"CM UP","o":6,"x":-3.81,"y":0.98},{"g":"CM UP","o":7,"x":1.08,"y":0.0},{"g":"CM UP","o":8,"x":5.08,"y":-1.32},
{"g":"EI NUP","o":1,"x":9.5,"y":-2.38},{"g":"EI NUP","o":2,"x":9.28,"y":-0.8},{"g":"EI NUP","o":3,"x":4.03,"y":1.79},{"g":"EI NUP","o":4,"x":-3.15,"y":3.88},{"g":"EI NUP","o":5,"x":-8.07,"y":4.23},{"g":"EI NUP","o":6,"x":-7.85,"y":2.65},{"g":"EI NUP","o":7,"x":-2.6,"y":0.06},{"g":"EI NUP","o":8,"x":4.59,"y":-2.03},
{"g":"EI UP","o":1,"x":3.15,"y":-2.28},{"g":"EI UP","o":2,"x":4.64,"y":-1.28},{"g":"EI UP","o":3,"x":5.0,"y":1.08},{"g":"EI UP","o":4,"x":4.03,"y":3.43},{"g":"EI UP","o":5,"x":2.32,"y":4.39},{"g":"EI UP","o":6,"x":0.83,"y":3.39},{"g":"EI UP","o":7,"x":0.47,"y":1.03},{"g":"EI UP","o":8,"x":1.44,"y":-1.32}],
"Cerp":[
{"g":"CM NUP","x":-9.75,"y":0.01,"l":"CM-83"},{"g":"CM NUP","x":-9.28,"y":-0.03,"l":"CM-68"},{"g":"CM NUP","x":-5.91,"y":0.56,"l":"CM-78"},{"g":"CM NUP","x":-3.26,"y":0.28,"l":"CM-87"},{"g":"CM NUP","x":-0.77,"y":-0.1,"l":"CM-97"},{"g":"CM NUP","x":-0.3,"y":-0.44,"l":"CM-103"},{"g":"CM NUP","x":-7.49,"y":-0.77,"l":"CM-79"},{"g":"CM NUP","x":-5.17,"y":-1.79,"l":"CM-5"},{"g":"CM NUP","x":-1.8,"y":-2.28,"l":"CM-114"},{"g":"CM NUP","x":0.5,"y":-1.52,"l":"CM-69"},{"g":"CM NUP","x":0.8,"y":-1.26,"l":"CM-101"},{"g":"CM NUP","x":2.35,"y":-0.85,"l":"CM-100"},{"g":"CM NUP","x":1.99,"y":0.81,"l":"CM-106"},{"g":"CM NUP","x":4.75,"y":-1.61,"l":"CM-89"},{"g":"CM NUP","x":3.98,"y":-1.2,"l":"CM-66"},
{"g":"CM UP","x":-3.76,"y":0.8,"l":"CM-51"},{"g":"CM UP","x":-2.51,"y":0.57,"l":"CM-36"},{"g":"CM UP","x":-4.03,"y":-0.2,"l":"CM-90"},{"g":"CM UP","x":-3.62,"y":-0.31,"l":"CM-38"},{"g":"CM UP","x":-1.27,"y":-0.13,"l":"CM-14"},{"g":"CM UP","x":2.32,"y":-0.72,"l":"CM-30"},{"g":"CM UP","x":-0.86,"y":-1.13,"l":"CM-117"},{"g":"CM UP","x":-0.44,"y":-1.13,"l":"CM-43"},{"g":"CM UP","x":1.91,"y":-0.48,"l":"CM-115"},{"g":"CM UP","x":0.8,"y":-1.13,"l":"CM-116"},{"g":"CM UP","x":4.25,"y":-1.21,"l":"CM-40"},
{"g":"EI NUP","x":-1.93,"y":2.78,"l":"EI-37"},{"g":"EI NUP","x":-5.11,"y":1.77,"l":"EI-38"},{"g":"EI NUP","x":1.24,"y":1.77,"l":"EI-39"},{"g":"EI NUP","x":5.14,"y":-0.81,"l":"EI-36"},{"g":"EI NUP","x":3.43,"y":-0.42,"l":"EI-47"},{"g":"EI NUP","x":2.87,"y":-0.33,"l":"EI-28"},
{"g":"EI UP","x":3.78,"y":3.77,"l":"EI-43"},{"g":"EI UP","x":1.13,"y":2.5,"l":"EI-45"},{"g":"EI UP","x":2.32,"y":2.04,"l":"EI-32"},{"g":"EI UP","x":1.91,"y":1.3,"l":"EI-22"},{"g":"EI UP","x":3.84,"y":0.81,"l":"EI-33"},{"g":"EI UP","x":4.53,"y":0.77,"l":"EI-4"},{"g":"EI UP","x":2.79,"y":0.62,"l":"EI-30"},{"g":"EI UP","x":0.88,"y":0.4,"l":"EI-34"},{"g":"EI UP","x":4.39,"y":-0.27,"l":"EI-42"},{"g":"EI UP","x":3.7,"y":-0.42,"l":"EI-12"}]
}}
